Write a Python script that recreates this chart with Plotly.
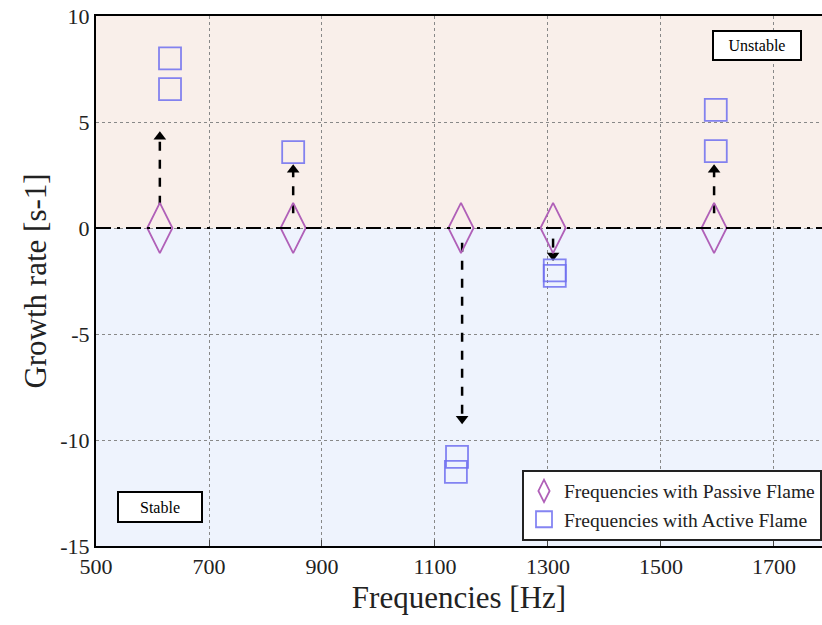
import plotly.graph_objects as go

# Data
passive_freq = [613, 849, 1146, 1309, 1594]
passive_rate = [0, 0, 0, 0, 0]

active_freq = [631, 631, 849, 1139, 1137, 1312, 1312, 1597, 1597]
active_rate = [8.0, 6.55, 3.58, -10.8, -11.5, -2.0, -2.26, 5.57, 3.63]

arrow_x = [613, 849, 1148, 1309, 1594]
arrow_y0 = [1.1, 0.7, -0.7, -0.5, 0.7]
arrow_y1 = [4.3, 2.75, -9.0, -1.3, 2.75]

x_ticks = [500, 700, 900, 1100, 1300, 1500, 1700]
y_ticks = [-15, -10, -5, 0, 5, 10]
y_tick_text = ["-15", "-10", "-5", "0", "5", "10"]

SERIF = "Liberation Serif"

fig = go.Figure()

# arrows (dashed shafts + heads)
for x, y0, y1 in zip(arrow_x, arrow_y0, arrow_y1):
    fig.add_trace(go.Scatter(x=[x, x], y=[y0, y1], mode="lines",
                             line=dict(color="black", width=2.5, dash="dash"),
                             showlegend=False, hoverinfo="skip"))
    fig.add_trace(go.Scatter(x=[x], y=[y1], mode="markers",
                             marker=dict(symbol="triangle-up" if y1 > y0 else "triangle-down",
                                         size=11, color="black"),
                             showlegend=False, hoverinfo="skip"))

fig.add_trace(go.Scatter(x=passive_freq, y=passive_rate, mode="markers",
                         name="Frequencies with Passive Flame",
                         marker=dict(symbol="diamond-tall-open", size=36,
                                     color="#b060b8", line=dict(width=1.8, color="#b060b8"))))
fig.add_trace(go.Scatter(x=active_freq, y=active_rate, mode="markers",
                         name="Frequencies with Active Flame",
                         marker=dict(symbol="square-open", size=22,
                                     color="rgba(110,110,240,0.85)",
                                     line=dict(width=1.8, color="rgba(110,110,240,0.85)"))))

xr = [500, 1785]
# background regions
fig.add_shape(type="rect", xref="x", yref="y", x0=xr[0], x1=xr[1], y0=0, y1=10,
              fillcolor="#f9efea", line=dict(width=0), layer="below")
fig.add_shape(type="rect", xref="x", yref="y", x0=xr[0], x1=xr[1], y0=-15, y1=0,
              fillcolor="#eef3fd", line=dict(width=0), layer="below")
# zero line
fig.add_shape(type="line", xref="x", yref="y", x0=xr[0], x1=xr[1], y0=0, y1=0,
              line=dict(color="black", width=1.8, dash="longdashdot"))

# text boxes
fig.add_annotation(x=0.029, y=0.074, xref="paper", yref="paper", text="Stable",
                   showarrow=False, font=dict(family=SERIF, size=16, color="black"),
                   bgcolor="white", bordercolor="black", borderwidth=2,
                   width=80, height=26, xanchor="left", yanchor="middle")
fig.add_annotation(x=0.848, y=0.945, xref="paper", yref="paper", text="Unstable",
                   showarrow=False, font=dict(family=SERIF, size=16, color="black"),
                   bgcolor="white", bordercolor="black", borderwidth=2,
                   width=84, height=25, xanchor="left", yanchor="middle")

fig.update_layout(
    width=822, height=625,
    margin=dict(l=96, r=0, t=16, b=79),
    plot_bgcolor="white", paper_bgcolor="white",
    font=dict(family=SERIF, color="#222"),
    legend=dict(x=1, y=0.01, xanchor="right", yanchor="bottom",
                bgcolor="white", bordercolor="#222", borderwidth=2,
                font=dict(family=SERIF, size=19.5, color="#222"),
                tracegroupgap=0),
    xaxis=dict(range=xr, tickvals=x_ticks, ticks="inside", ticklen=6, tickcolor="#444",
               showgrid=True, gridcolor="#888", griddash="dot", gridwidth=1.3,
               showline=True, linecolor="black", linewidth=2, mirror=True,
               zeroline=False, tickfont=dict(family=SERIF, size=22, color="#222"),
               title=dict(text="Frequencies [Hz]", font=dict(family=SERIF, size=31, color="#222"),
                          standoff=8)),
    yaxis=dict(range=[-15, 10], tickvals=y_ticks, ticktext=y_tick_text, ticks="",
               showgrid=True, gridcolor="#888", griddash="dot", gridwidth=1.3,
               showline=True, linecolor="black", linewidth=2,
               zeroline=False, tickfont=dict(family=SERIF, size=22, color="#222"),
               title=dict(text="Growth rate [s-1]", font=dict(family=SERIF, size=31, color="#222"),
                          standoff=4)),
)

fig.write_html("out.html")
